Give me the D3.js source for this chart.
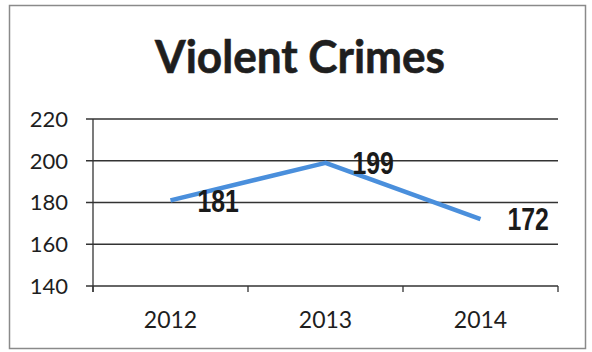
<!DOCTYPE html>
<html>
<head>
<meta charset="utf-8">
<script src="https://cdn.jsdelivr.net/npm/d3@7"></script>
<style>
  html, body { margin: 0; padding: 0; background: #fff; }
  svg { display: block; }
</style>
</head>
<body>
<svg id="chart" width="592" height="352"></svg>
<script>
// Data
const years = ["2012", "2013", "2014"];
const crimes = [181, 199, 172];
const yTicks = [140, 160, 180, 200, 220];
const chartTitle = "Violent Crimes";

const svg = d3.select("#chart");
const plot = { left: 93, right: 558, top: 119, bottom: 286 };
const baseFont = "Lato, 'Open Sans', sans-serif";

// Outer frame
svg.append("rect")
  .attr("x", 9.5).attr("y", 5.5)
  .attr("width", 576).attr("height", 343)
  .attr("fill", "#fff")
  .attr("stroke", "#8a8a8a")
  .attr("stroke-width", 1.5);

// Title
svg.append("text")
  .attr("x", 300).attr("y", 73)
  .attr("text-anchor", "middle")
  .attr("font-family", baseFont)
  .attr("font-weight", 700)
  .attr("font-size", 45)
  .attr("fill", "#1e1e1e")
  .attr("stroke", "#1e1e1e")
  .attr("stroke-width", 0.6)
  .attr("textLength", 290)
  .attr("lengthAdjust", "spacingAndGlyphs")
  .text(chartTitle);

// Scales
const x = d3.scaleBand().domain(years).range([plot.left, plot.right]);
const y = d3.scaleLinear().domain([140, 220]).range([plot.bottom, plot.top]);

// Horizontal gridlines
svg.append("g")
  .selectAll("line")
  .data(yTicks)
  .join("line")
  .attr("x1", plot.left - 7).attr("x2", plot.right)
  .attr("y1", d => y(d)).attr("y2", d => y(d))
  .attr("stroke", "#333")
  .attr("stroke-width", 1.3);

// Y axis line
svg.append("line")
  .attr("x1", plot.left).attr("x2", plot.left)
  .attr("y1", plot.top).attr("y2", plot.bottom + 6)
  .attr("stroke", "#333").attr("stroke-width", 1.3);

// Y tick labels
svg.append("g")
  .selectAll("text")
  .data(yTicks)
  .join("text")
  .attr("x", 68)
  .attr("y", d => y(d))
  .attr("dy", "0.36em")
  .attr("text-anchor", "end")
  .attr("font-family", baseFont)
  .attr("font-size", 22)
  .attr("fill", "#1e1e1e")
  .text(d => d);

// X axis ticks at band edges
const edges = years.map(d => x(d)).concat([plot.right]);
svg.append("g")
  .selectAll("line")
  .data(edges)
  .join("line")
  .attr("x1", d => d).attr("x2", d => d)
  .attr("y1", plot.bottom).attr("y2", plot.bottom + 6)
  .attr("stroke", "#333").attr("stroke-width", 1.3);

// X labels
svg.append("g")
  .selectAll("text")
  .data(years)
  .join("text")
  .attr("x", d => x(d) + x.bandwidth() / 2)
  .attr("y", 328)
  .attr("text-anchor", "middle")
  .attr("font-family", baseFont)
  .attr("font-size", 23)
  .attr("fill", "#1e1e1e")
  .text(d => d);

// Line series
const pts = years.map((d, i) => ({ year: d, value: crimes[i] }));
const line = d3.line()
  .x(d => x(d.year) + x.bandwidth() / 2)
  .y(d => y(d.value));

svg.append("path")
  .datum(pts)
  .attr("d", line)
  .attr("fill", "none")
  .attr("stroke", "#4a8fdc")
  .attr("stroke-width", 4.5)
  .attr("stroke-linejoin", "round");

// Value labels to the right of each point, in a condensed bold face
svg.append("g")
  .selectAll("text")
  .data(pts)
  .join("text")
  .attr("transform", d =>
    `translate(${x(d.year) + x.bandwidth() / 2 + 27},${y(d.value)}) scale(0.8,1)`)
  .attr("dy", "0.36em")
  .attr("font-family", "'Liberation Sans', Arial, sans-serif")
  .attr("font-weight", 700)
  .attr("font-size", 31)
  .attr("fill", "#1a1a1a")
  .text(d => d.value);
</script>
</body>
</html>
